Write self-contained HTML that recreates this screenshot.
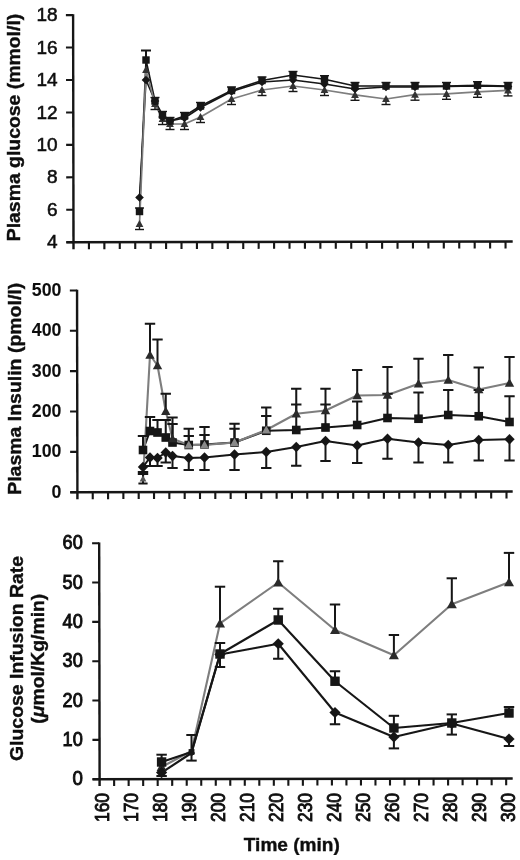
<!DOCTYPE html>
<html lang="en"><head><meta charset="utf-8"><title>Plasma glucose, insulin and glucose infusion rate</title>
<style>
html,body{margin:0;padding:0;background:#fff;}
body{width:520px;height:860px;overflow:hidden;}
svg{display:block;font-family:"Liberation Sans",Arial,Helvetica,sans-serif;}
text{fill:#111;stroke:#111;stroke-width:0.4px;}
text.r{stroke-width:0.55px;}
text.r2{stroke-width:0.9px;}
text.b0{stroke-width:0.1px;}
</style></head><body>
<svg width="520" height="860" viewBox="0 0 520 860">
<rect x="0" y="0" width="520" height="860" fill="#ffffff"/>
<defs><filter id="soft" x="-2%" y="-2%" width="104%" height="104%"><feGaussianBlur stdDeviation="0.55"/></filter></defs>
<g filter="url(#soft)">
<g transform="rotate(-0.1 73.5 242.2)">
<line x1="73.50" y1="14.20" x2="73.50" y2="249.20" stroke="#151515" stroke-width="2.4"/>
<line x1="66.30" y1="242.20" x2="512.70" y2="242.20" stroke="#151515" stroke-width="2.4"/>
<line x1="66.30" y1="242.20" x2="73.50" y2="242.20" stroke="#151515" stroke-width="2.1"/>
<line x1="66.30" y1="209.76" x2="73.50" y2="209.76" stroke="#151515" stroke-width="2.1"/>
<line x1="66.30" y1="177.32" x2="73.50" y2="177.32" stroke="#151515" stroke-width="2.1"/>
<line x1="66.30" y1="144.88" x2="73.50" y2="144.88" stroke="#151515" stroke-width="2.1"/>
<line x1="66.30" y1="112.44" x2="73.50" y2="112.44" stroke="#151515" stroke-width="2.1"/>
<line x1="66.30" y1="80.00" x2="73.50" y2="80.00" stroke="#151515" stroke-width="2.1"/>
<line x1="66.30" y1="47.56" x2="73.50" y2="47.56" stroke="#151515" stroke-width="2.1"/>
<line x1="66.30" y1="15.12" x2="73.50" y2="15.12" stroke="#151515" stroke-width="2.1"/>
<line x1="88.93" y1="242.20" x2="88.93" y2="249.20" stroke="#151515" stroke-width="2.1"/>
<line x1="104.36" y1="242.20" x2="104.36" y2="249.20" stroke="#151515" stroke-width="2.1"/>
<line x1="119.79" y1="242.20" x2="119.79" y2="249.20" stroke="#151515" stroke-width="2.1"/>
<line x1="135.22" y1="242.20" x2="135.22" y2="249.20" stroke="#151515" stroke-width="2.1"/>
<line x1="150.65" y1="242.20" x2="150.65" y2="249.20" stroke="#151515" stroke-width="2.1"/>
<line x1="166.08" y1="242.20" x2="166.08" y2="249.20" stroke="#151515" stroke-width="2.1"/>
<line x1="181.51" y1="242.20" x2="181.51" y2="249.20" stroke="#151515" stroke-width="2.1"/>
<line x1="196.94" y1="242.20" x2="196.94" y2="249.20" stroke="#151515" stroke-width="2.1"/>
<line x1="212.37" y1="242.20" x2="212.37" y2="249.20" stroke="#151515" stroke-width="2.1"/>
<line x1="227.80" y1="242.20" x2="227.80" y2="249.20" stroke="#151515" stroke-width="2.1"/>
<line x1="243.23" y1="242.20" x2="243.23" y2="249.20" stroke="#151515" stroke-width="2.1"/>
<line x1="258.66" y1="242.20" x2="258.66" y2="249.20" stroke="#151515" stroke-width="2.1"/>
<line x1="274.09" y1="242.20" x2="274.09" y2="249.20" stroke="#151515" stroke-width="2.1"/>
<line x1="289.52" y1="242.20" x2="289.52" y2="249.20" stroke="#151515" stroke-width="2.1"/>
<line x1="304.95" y1="242.20" x2="304.95" y2="249.20" stroke="#151515" stroke-width="2.1"/>
<line x1="320.38" y1="242.20" x2="320.38" y2="249.20" stroke="#151515" stroke-width="2.1"/>
<line x1="335.81" y1="242.20" x2="335.81" y2="249.20" stroke="#151515" stroke-width="2.1"/>
<line x1="351.24" y1="242.20" x2="351.24" y2="249.20" stroke="#151515" stroke-width="2.1"/>
<line x1="366.67" y1="242.20" x2="366.67" y2="249.20" stroke="#151515" stroke-width="2.1"/>
<line x1="382.10" y1="242.20" x2="382.10" y2="249.20" stroke="#151515" stroke-width="2.1"/>
<line x1="397.53" y1="242.20" x2="397.53" y2="249.20" stroke="#151515" stroke-width="2.1"/>
<line x1="412.96" y1="242.20" x2="412.96" y2="249.20" stroke="#151515" stroke-width="2.1"/>
<line x1="428.39" y1="242.20" x2="428.39" y2="249.20" stroke="#151515" stroke-width="2.1"/>
<line x1="443.82" y1="242.20" x2="443.82" y2="249.20" stroke="#151515" stroke-width="2.1"/>
<line x1="459.25" y1="242.20" x2="459.25" y2="249.20" stroke="#151515" stroke-width="2.1"/>
<line x1="474.68" y1="242.20" x2="474.68" y2="249.20" stroke="#151515" stroke-width="2.1"/>
<line x1="490.11" y1="242.20" x2="490.11" y2="249.20" stroke="#151515" stroke-width="2.1"/>
<line x1="505.54" y1="242.20" x2="505.54" y2="249.20" stroke="#151515" stroke-width="2.1"/>
</g>
<text x="57.6" y="248.29999999999998" font-size="19" font-weight="normal" text-anchor="end" class="r">4</text>
<text x="57.6" y="215.85999999999999" font-size="19" font-weight="normal" text-anchor="end" class="r">6</text>
<text x="57.6" y="183.42" font-size="19" font-weight="normal" text-anchor="end" class="r">8</text>
<text x="57.6" y="150.98" font-size="19" font-weight="normal" text-anchor="end" class="r">10</text>
<text x="57.6" y="118.53999999999999" font-size="19" font-weight="normal" text-anchor="end" class="r">12</text>
<text x="57.6" y="86.1" font-size="19" font-weight="normal" text-anchor="end" class="r">14</text>
<text x="57.6" y="53.660000000000004" font-size="19" font-weight="normal" text-anchor="end" class="r">16</text>
<text x="57.6" y="21.220000000000006" font-size="19" font-weight="normal" text-anchor="end" class="r">18</text>
<text x="20.0" y="127.5" font-size="18.3" font-weight="bold" text-anchor="middle" textLength="227.5" lengthAdjust="spacingAndGlyphs" transform="rotate(-90 20.0 127.5)">Plasma glucose (mmol/l)</text>
<polyline points="139.50,197.50 146.00,80.00 155.00,101.00 162.50,117.00 170.00,121.00 184.50,118.00 200.50,107.50 231.50,91.50 262.00,82.00 293.00,80.00 324.50,84.00 355.00,89.00 386.00,87.00 415.00,87.00 446.50,86.50 477.50,86.00 508.00,86.50" fill="none" stroke="#151515" stroke-width="1.6" stroke-linejoin="round"/>
<polyline points="139.50,211.50 146.00,60.00 155.00,101.00 162.50,115.00 170.00,121.00 184.50,116.00 200.50,106.00 231.50,90.50 262.00,80.50 293.00,75.00 324.50,79.20 355.00,86.00 386.00,86.00 415.00,86.00 446.50,86.00 477.50,85.20 508.00,86.00" fill="none" stroke="#151515" stroke-width="1.6" stroke-linejoin="round"/>
<polyline points="139.50,224.00 146.00,70.00 155.00,104.00 162.50,119.00 170.00,124.00 184.50,124.00 200.50,117.00 231.50,99.00 262.00,90.00 293.00,86.00 324.50,90.00 355.00,94.80 386.00,99.00 415.00,94.70 446.50,93.80 477.50,91.80 508.00,90.40" fill="none" stroke="#7e7e7e" stroke-width="1.7" stroke-linejoin="round"/>
<line x1="139.50" y1="211.50" x2="139.50" y2="208.00" stroke="#151515" stroke-width="1.4"/>
<line x1="135.00" y1="208.00" x2="144.00" y2="208.00" stroke="#151515" stroke-width="1.4"/>
<line x1="139.50" y1="224.00" x2="139.50" y2="229.50" stroke="#151515" stroke-width="1.4"/>
<line x1="135.00" y1="229.50" x2="144.00" y2="229.50" stroke="#151515" stroke-width="1.4"/>
<line x1="146.00" y1="60.00" x2="146.00" y2="50.50" stroke="#151515" stroke-width="2.0"/>
<line x1="141.00" y1="50.50" x2="151.00" y2="50.50" stroke="#151515" stroke-width="2.0"/>
<line x1="155.00" y1="101.00" x2="155.00" y2="97.50" stroke="#151515" stroke-width="1.4"/>
<line x1="150.50" y1="97.50" x2="159.50" y2="97.50" stroke="#151515" stroke-width="1.4"/>
<line x1="155.00" y1="104.00" x2="155.00" y2="109.50" stroke="#151515" stroke-width="1.4"/>
<line x1="150.50" y1="109.50" x2="159.50" y2="109.50" stroke="#151515" stroke-width="1.4"/>
<line x1="162.50" y1="115.00" x2="162.50" y2="111.50" stroke="#151515" stroke-width="1.4"/>
<line x1="158.00" y1="111.50" x2="167.00" y2="111.50" stroke="#151515" stroke-width="1.4"/>
<line x1="162.50" y1="119.00" x2="162.50" y2="124.50" stroke="#151515" stroke-width="1.4"/>
<line x1="158.00" y1="124.50" x2="167.00" y2="124.50" stroke="#151515" stroke-width="1.4"/>
<line x1="170.00" y1="121.00" x2="170.00" y2="117.50" stroke="#151515" stroke-width="1.4"/>
<line x1="165.50" y1="117.50" x2="174.50" y2="117.50" stroke="#151515" stroke-width="1.4"/>
<line x1="170.00" y1="124.00" x2="170.00" y2="129.50" stroke="#151515" stroke-width="1.4"/>
<line x1="165.50" y1="129.50" x2="174.50" y2="129.50" stroke="#151515" stroke-width="1.4"/>
<line x1="184.50" y1="116.00" x2="184.50" y2="112.50" stroke="#151515" stroke-width="1.4"/>
<line x1="180.00" y1="112.50" x2="189.00" y2="112.50" stroke="#151515" stroke-width="1.4"/>
<line x1="184.50" y1="124.00" x2="184.50" y2="129.50" stroke="#151515" stroke-width="1.4"/>
<line x1="180.00" y1="129.50" x2="189.00" y2="129.50" stroke="#151515" stroke-width="1.4"/>
<line x1="200.50" y1="106.00" x2="200.50" y2="102.50" stroke="#151515" stroke-width="1.4"/>
<line x1="196.00" y1="102.50" x2="205.00" y2="102.50" stroke="#151515" stroke-width="1.4"/>
<line x1="200.50" y1="117.00" x2="200.50" y2="122.50" stroke="#151515" stroke-width="1.4"/>
<line x1="196.00" y1="122.50" x2="205.00" y2="122.50" stroke="#151515" stroke-width="1.4"/>
<line x1="231.50" y1="90.50" x2="231.50" y2="87.00" stroke="#151515" stroke-width="1.4"/>
<line x1="227.00" y1="87.00" x2="236.00" y2="87.00" stroke="#151515" stroke-width="1.4"/>
<line x1="231.50" y1="99.00" x2="231.50" y2="104.50" stroke="#151515" stroke-width="1.4"/>
<line x1="227.00" y1="104.50" x2="236.00" y2="104.50" stroke="#151515" stroke-width="1.4"/>
<line x1="262.00" y1="80.50" x2="262.00" y2="77.00" stroke="#151515" stroke-width="1.4"/>
<line x1="257.50" y1="77.00" x2="266.50" y2="77.00" stroke="#151515" stroke-width="1.4"/>
<line x1="262.00" y1="90.00" x2="262.00" y2="95.50" stroke="#151515" stroke-width="1.4"/>
<line x1="257.50" y1="95.50" x2="266.50" y2="95.50" stroke="#151515" stroke-width="1.4"/>
<line x1="293.00" y1="75.00" x2="293.00" y2="71.50" stroke="#151515" stroke-width="1.4"/>
<line x1="288.50" y1="71.50" x2="297.50" y2="71.50" stroke="#151515" stroke-width="1.4"/>
<line x1="293.00" y1="86.00" x2="293.00" y2="91.50" stroke="#151515" stroke-width="1.4"/>
<line x1="288.50" y1="91.50" x2="297.50" y2="91.50" stroke="#151515" stroke-width="1.4"/>
<line x1="324.50" y1="79.20" x2="324.50" y2="75.70" stroke="#151515" stroke-width="1.4"/>
<line x1="320.00" y1="75.70" x2="329.00" y2="75.70" stroke="#151515" stroke-width="1.4"/>
<line x1="324.50" y1="90.00" x2="324.50" y2="95.50" stroke="#151515" stroke-width="1.4"/>
<line x1="320.00" y1="95.50" x2="329.00" y2="95.50" stroke="#151515" stroke-width="1.4"/>
<line x1="355.00" y1="86.00" x2="355.00" y2="82.50" stroke="#151515" stroke-width="1.4"/>
<line x1="350.50" y1="82.50" x2="359.50" y2="82.50" stroke="#151515" stroke-width="1.4"/>
<line x1="355.00" y1="94.80" x2="355.00" y2="100.30" stroke="#151515" stroke-width="1.4"/>
<line x1="350.50" y1="100.30" x2="359.50" y2="100.30" stroke="#151515" stroke-width="1.4"/>
<line x1="386.00" y1="86.00" x2="386.00" y2="82.50" stroke="#151515" stroke-width="1.4"/>
<line x1="381.50" y1="82.50" x2="390.50" y2="82.50" stroke="#151515" stroke-width="1.4"/>
<line x1="386.00" y1="99.00" x2="386.00" y2="104.50" stroke="#151515" stroke-width="1.4"/>
<line x1="381.50" y1="104.50" x2="390.50" y2="104.50" stroke="#151515" stroke-width="1.4"/>
<line x1="415.00" y1="86.00" x2="415.00" y2="82.50" stroke="#151515" stroke-width="1.4"/>
<line x1="410.50" y1="82.50" x2="419.50" y2="82.50" stroke="#151515" stroke-width="1.4"/>
<line x1="415.00" y1="94.70" x2="415.00" y2="100.20" stroke="#151515" stroke-width="1.4"/>
<line x1="410.50" y1="100.20" x2="419.50" y2="100.20" stroke="#151515" stroke-width="1.4"/>
<line x1="446.50" y1="86.00" x2="446.50" y2="82.50" stroke="#151515" stroke-width="1.4"/>
<line x1="442.00" y1="82.50" x2="451.00" y2="82.50" stroke="#151515" stroke-width="1.4"/>
<line x1="446.50" y1="93.80" x2="446.50" y2="99.30" stroke="#151515" stroke-width="1.4"/>
<line x1="442.00" y1="99.30" x2="451.00" y2="99.30" stroke="#151515" stroke-width="1.4"/>
<line x1="477.50" y1="85.20" x2="477.50" y2="81.70" stroke="#151515" stroke-width="1.4"/>
<line x1="473.00" y1="81.70" x2="482.00" y2="81.70" stroke="#151515" stroke-width="1.4"/>
<line x1="477.50" y1="91.80" x2="477.50" y2="97.30" stroke="#151515" stroke-width="1.4"/>
<line x1="473.00" y1="97.30" x2="482.00" y2="97.30" stroke="#151515" stroke-width="1.4"/>
<line x1="508.00" y1="86.00" x2="508.00" y2="82.50" stroke="#151515" stroke-width="1.4"/>
<line x1="503.50" y1="82.50" x2="512.50" y2="82.50" stroke="#151515" stroke-width="1.4"/>
<line x1="508.00" y1="90.40" x2="508.00" y2="95.90" stroke="#151515" stroke-width="1.4"/>
<line x1="503.50" y1="95.90" x2="512.50" y2="95.90" stroke="#151515" stroke-width="1.4"/>
<polygon points="139.50,220.10 143.40,227.12 135.60,227.12" fill="#333"/>
<polygon points="139.50,193.20 143.80,197.50 139.50,201.80 135.20,197.50" fill="#151515"/>
<rect x="135.80" y="207.80" width="7.40" height="7.40" fill="#151515"/>
<polygon points="146.00,66.10 149.90,73.12 142.10,73.12" fill="#333"/>
<polygon points="146.00,75.70 150.30,80.00 146.00,84.30 141.70,80.00" fill="#151515"/>
<rect x="142.30" y="56.30" width="7.40" height="7.40" fill="#151515"/>
<polygon points="155.00,100.10 158.90,107.12 151.10,107.12" fill="#333"/>
<polygon points="155.00,96.70 159.30,101.00 155.00,105.30 150.70,101.00" fill="#151515"/>
<rect x="151.30" y="97.30" width="7.40" height="7.40" fill="#151515"/>
<polygon points="162.50,115.10 166.40,122.12 158.60,122.12" fill="#333"/>
<polygon points="162.50,112.70 166.80,117.00 162.50,121.30 158.20,117.00" fill="#151515"/>
<rect x="158.80" y="111.30" width="7.40" height="7.40" fill="#151515"/>
<polygon points="170.00,120.10 173.90,127.12 166.10,127.12" fill="#333"/>
<polygon points="170.00,116.70 174.30,121.00 170.00,125.30 165.70,121.00" fill="#151515"/>
<rect x="166.30" y="117.30" width="7.40" height="7.40" fill="#151515"/>
<polygon points="184.50,120.10 188.40,127.12 180.60,127.12" fill="#333"/>
<polygon points="184.50,113.70 188.80,118.00 184.50,122.30 180.20,118.00" fill="#151515"/>
<rect x="180.80" y="112.30" width="7.40" height="7.40" fill="#151515"/>
<polygon points="200.50,113.10 204.40,120.12 196.60,120.12" fill="#333"/>
<polygon points="200.50,103.20 204.80,107.50 200.50,111.80 196.20,107.50" fill="#151515"/>
<rect x="196.80" y="102.30" width="7.40" height="7.40" fill="#151515"/>
<polygon points="231.50,95.10 235.40,102.12 227.60,102.12" fill="#333"/>
<polygon points="231.50,87.20 235.80,91.50 231.50,95.80 227.20,91.50" fill="#151515"/>
<rect x="227.80" y="86.80" width="7.40" height="7.40" fill="#151515"/>
<polygon points="262.00,86.10 265.90,93.12 258.10,93.12" fill="#333"/>
<polygon points="262.00,77.70 266.30,82.00 262.00,86.30 257.70,82.00" fill="#151515"/>
<rect x="258.30" y="76.80" width="7.40" height="7.40" fill="#151515"/>
<polygon points="293.00,82.10 296.90,89.12 289.10,89.12" fill="#333"/>
<polygon points="293.00,75.70 297.30,80.00 293.00,84.30 288.70,80.00" fill="#151515"/>
<rect x="289.30" y="71.30" width="7.40" height="7.40" fill="#151515"/>
<polygon points="324.50,86.10 328.40,93.12 320.60,93.12" fill="#333"/>
<polygon points="324.50,79.70 328.80,84.00 324.50,88.30 320.20,84.00" fill="#151515"/>
<rect x="320.80" y="75.50" width="7.40" height="7.40" fill="#151515"/>
<polygon points="355.00,90.90 358.90,97.92 351.10,97.92" fill="#333"/>
<polygon points="355.00,84.70 359.30,89.00 355.00,93.30 350.70,89.00" fill="#151515"/>
<rect x="351.30" y="82.30" width="7.40" height="7.40" fill="#151515"/>
<polygon points="386.00,95.10 389.90,102.12 382.10,102.12" fill="#333"/>
<polygon points="386.00,82.70 390.30,87.00 386.00,91.30 381.70,87.00" fill="#151515"/>
<rect x="382.30" y="82.30" width="7.40" height="7.40" fill="#151515"/>
<polygon points="415.00,90.80 418.90,97.82 411.10,97.82" fill="#333"/>
<polygon points="415.00,82.70 419.30,87.00 415.00,91.30 410.70,87.00" fill="#151515"/>
<rect x="411.30" y="82.30" width="7.40" height="7.40" fill="#151515"/>
<polygon points="446.50,89.90 450.40,96.92 442.60,96.92" fill="#333"/>
<polygon points="446.50,82.20 450.80,86.50 446.50,90.80 442.20,86.50" fill="#151515"/>
<rect x="442.80" y="82.30" width="7.40" height="7.40" fill="#151515"/>
<polygon points="477.50,87.90 481.40,94.92 473.60,94.92" fill="#333"/>
<polygon points="477.50,81.70 481.80,86.00 477.50,90.30 473.20,86.00" fill="#151515"/>
<rect x="473.80" y="81.50" width="7.40" height="7.40" fill="#151515"/>
<polygon points="508.00,86.50 511.90,93.52 504.10,93.52" fill="#333"/>
<polygon points="508.00,82.20 512.30,86.50 508.00,90.80 503.70,86.50" fill="#151515"/>
<rect x="504.30" y="82.30" width="7.40" height="7.40" fill="#151515"/>
<g transform="rotate(-0.1 77.4 492.2)">
<line x1="77.40" y1="289.80" x2="77.40" y2="499.20" stroke="#151515" stroke-width="2.4"/>
<line x1="70.20" y1="492.20" x2="512.70" y2="492.20" stroke="#151515" stroke-width="2.4"/>
<line x1="70.20" y1="492.20" x2="77.40" y2="492.20" stroke="#151515" stroke-width="2.1"/>
<line x1="70.20" y1="451.85" x2="77.40" y2="451.85" stroke="#151515" stroke-width="2.1"/>
<line x1="70.20" y1="411.50" x2="77.40" y2="411.50" stroke="#151515" stroke-width="2.1"/>
<line x1="70.20" y1="371.15" x2="77.40" y2="371.15" stroke="#151515" stroke-width="2.1"/>
<line x1="70.20" y1="330.80" x2="77.40" y2="330.80" stroke="#151515" stroke-width="2.1"/>
<line x1="70.20" y1="290.45" x2="77.40" y2="290.45" stroke="#151515" stroke-width="2.1"/>
<line x1="92.73" y1="492.20" x2="92.73" y2="499.20" stroke="#151515" stroke-width="2.1"/>
<line x1="108.05" y1="492.20" x2="108.05" y2="499.20" stroke="#151515" stroke-width="2.1"/>
<line x1="123.38" y1="492.20" x2="123.38" y2="499.20" stroke="#151515" stroke-width="2.1"/>
<line x1="138.70" y1="492.20" x2="138.70" y2="499.20" stroke="#151515" stroke-width="2.1"/>
<line x1="154.03" y1="492.20" x2="154.03" y2="499.20" stroke="#151515" stroke-width="2.1"/>
<line x1="169.35" y1="492.20" x2="169.35" y2="499.20" stroke="#151515" stroke-width="2.1"/>
<line x1="184.68" y1="492.20" x2="184.68" y2="499.20" stroke="#151515" stroke-width="2.1"/>
<line x1="200.00" y1="492.20" x2="200.00" y2="499.20" stroke="#151515" stroke-width="2.1"/>
<line x1="215.32" y1="492.20" x2="215.32" y2="499.20" stroke="#151515" stroke-width="2.1"/>
<line x1="230.65" y1="492.20" x2="230.65" y2="499.20" stroke="#151515" stroke-width="2.1"/>
<line x1="245.97" y1="492.20" x2="245.97" y2="499.20" stroke="#151515" stroke-width="2.1"/>
<line x1="261.30" y1="492.20" x2="261.30" y2="499.20" stroke="#151515" stroke-width="2.1"/>
<line x1="276.62" y1="492.20" x2="276.62" y2="499.20" stroke="#151515" stroke-width="2.1"/>
<line x1="291.95" y1="492.20" x2="291.95" y2="499.20" stroke="#151515" stroke-width="2.1"/>
<line x1="307.27" y1="492.20" x2="307.27" y2="499.20" stroke="#151515" stroke-width="2.1"/>
<line x1="322.60" y1="492.20" x2="322.60" y2="499.20" stroke="#151515" stroke-width="2.1"/>
<line x1="337.92" y1="492.20" x2="337.92" y2="499.20" stroke="#151515" stroke-width="2.1"/>
<line x1="353.25" y1="492.20" x2="353.25" y2="499.20" stroke="#151515" stroke-width="2.1"/>
<line x1="368.58" y1="492.20" x2="368.58" y2="499.20" stroke="#151515" stroke-width="2.1"/>
<line x1="383.90" y1="492.20" x2="383.90" y2="499.20" stroke="#151515" stroke-width="2.1"/>
<line x1="399.23" y1="492.20" x2="399.23" y2="499.20" stroke="#151515" stroke-width="2.1"/>
<line x1="414.55" y1="492.20" x2="414.55" y2="499.20" stroke="#151515" stroke-width="2.1"/>
<line x1="429.88" y1="492.20" x2="429.88" y2="499.20" stroke="#151515" stroke-width="2.1"/>
<line x1="445.20" y1="492.20" x2="445.20" y2="499.20" stroke="#151515" stroke-width="2.1"/>
<line x1="460.52" y1="492.20" x2="460.52" y2="499.20" stroke="#151515" stroke-width="2.1"/>
<line x1="475.85" y1="492.20" x2="475.85" y2="499.20" stroke="#151515" stroke-width="2.1"/>
<line x1="491.17" y1="492.20" x2="491.17" y2="499.20" stroke="#151515" stroke-width="2.1"/>
<line x1="506.50" y1="492.20" x2="506.50" y2="499.20" stroke="#151515" stroke-width="2.1"/>
</g>
<text x="61.4" y="497.7" font-size="18" font-weight="bold" text-anchor="end" textLength="9.9" lengthAdjust="spacingAndGlyphs" class="b0">0</text>
<text x="61.4" y="457.34999999999997" font-size="18" font-weight="bold" text-anchor="end" textLength="29.6" lengthAdjust="spacingAndGlyphs" class="b0">100</text>
<text x="61.4" y="417.0" font-size="18" font-weight="bold" text-anchor="end" textLength="29.6" lengthAdjust="spacingAndGlyphs" class="b0">200</text>
<text x="61.4" y="376.65" font-size="18" font-weight="bold" text-anchor="end" textLength="29.6" lengthAdjust="spacingAndGlyphs" class="b0">300</text>
<text x="61.4" y="336.29999999999995" font-size="18" font-weight="bold" text-anchor="end" textLength="29.6" lengthAdjust="spacingAndGlyphs" class="b0">400</text>
<text x="61.4" y="295.95" font-size="18" font-weight="bold" text-anchor="end" textLength="29.6" lengthAdjust="spacingAndGlyphs" class="b0">500</text>
<text x="21" y="388.8" font-size="18" font-weight="bold" text-anchor="middle" textLength="212" lengthAdjust="spacingAndGlyphs" transform="rotate(-90 21 388.8)">Plasma Insulin (pmol/l)</text>
<polyline points="143.00,450.00 150.00,431.00 157.50,432.50 165.75,437.50 172.50,442.50 188.75,445.00 204.50,444.50 234.50,442.50 266.25,430.75 296.25,430.00 325.50,427.50 357.20,425.00 387.50,418.00 418.50,418.75 448.25,415.00 478.75,416.25 509.50,422.00" fill="none" stroke="#151515" stroke-width="2.1" stroke-linejoin="round"/>
<polyline points="143.00,467.00 150.00,457.50 157.50,458.00 165.75,452.50 172.50,456.00 188.75,458.00 204.50,457.50 234.50,454.50 266.25,452.00 296.25,447.00 325.50,441.00 357.20,445.50 387.50,438.75 418.50,442.50 448.25,445.00 478.75,440.00 509.50,439.25" fill="none" stroke="#151515" stroke-width="2.1" stroke-linejoin="round"/>
<polyline points="143.00,478.75 150.00,355.00 157.50,365.50 165.75,411.25 172.50,438.75 188.75,445.00 204.50,445.00 234.50,442.50 266.25,430.00 296.25,413.75 325.50,410.50 357.20,395.50 387.50,395.00 418.50,383.75 448.25,380.00 478.75,389.50 509.50,383.00" fill="none" stroke="#7e7e7e" stroke-width="2.1" stroke-linejoin="round"/>
<line x1="143.00" y1="478.75" x2="143.00" y2="474.00" stroke="#151515" stroke-width="2.0"/>
<line x1="137.80" y1="474.00" x2="148.20" y2="474.00" stroke="#151515" stroke-width="2.0"/>
<line x1="143.00" y1="450.00" x2="143.00" y2="436.00" stroke="#151515" stroke-width="2.0"/>
<line x1="137.80" y1="436.00" x2="148.20" y2="436.00" stroke="#151515" stroke-width="2.0"/>
<line x1="143.00" y1="467.00" x2="143.00" y2="472.00" stroke="#151515" stroke-width="2.0"/>
<line x1="137.80" y1="472.00" x2="148.20" y2="472.00" stroke="#151515" stroke-width="2.0"/>
<line x1="150.00" y1="355.00" x2="150.00" y2="323.75" stroke="#151515" stroke-width="2.0"/>
<line x1="144.80" y1="323.75" x2="155.20" y2="323.75" stroke="#151515" stroke-width="2.0"/>
<line x1="150.00" y1="431.00" x2="150.00" y2="417.00" stroke="#151515" stroke-width="2.0"/>
<line x1="144.80" y1="417.00" x2="155.20" y2="417.00" stroke="#151515" stroke-width="2.0"/>
<line x1="150.00" y1="457.50" x2="150.00" y2="466.00" stroke="#151515" stroke-width="2.0"/>
<line x1="144.80" y1="466.00" x2="155.20" y2="466.00" stroke="#151515" stroke-width="2.0"/>
<line x1="157.50" y1="365.50" x2="157.50" y2="339.50" stroke="#151515" stroke-width="2.0"/>
<line x1="152.30" y1="339.50" x2="162.70" y2="339.50" stroke="#151515" stroke-width="2.0"/>
<line x1="157.50" y1="432.50" x2="157.50" y2="420.00" stroke="#151515" stroke-width="2.0"/>
<line x1="152.30" y1="420.00" x2="162.70" y2="420.00" stroke="#151515" stroke-width="2.0"/>
<line x1="157.50" y1="458.00" x2="157.50" y2="466.00" stroke="#151515" stroke-width="2.0"/>
<line x1="152.30" y1="466.00" x2="162.70" y2="466.00" stroke="#151515" stroke-width="2.0"/>
<line x1="165.75" y1="411.25" x2="165.75" y2="393.75" stroke="#151515" stroke-width="2.0"/>
<line x1="160.55" y1="393.75" x2="170.95" y2="393.75" stroke="#151515" stroke-width="2.0"/>
<line x1="165.75" y1="437.50" x2="165.75" y2="420.00" stroke="#151515" stroke-width="2.0"/>
<line x1="160.55" y1="420.00" x2="170.95" y2="420.00" stroke="#151515" stroke-width="2.0"/>
<line x1="165.75" y1="452.50" x2="165.75" y2="462.50" stroke="#151515" stroke-width="2.0"/>
<line x1="160.55" y1="462.50" x2="170.95" y2="462.50" stroke="#151515" stroke-width="2.0"/>
<line x1="172.50" y1="438.75" x2="172.50" y2="424.00" stroke="#151515" stroke-width="2.0"/>
<line x1="167.30" y1="424.00" x2="177.70" y2="424.00" stroke="#151515" stroke-width="2.0"/>
<line x1="172.50" y1="442.50" x2="172.50" y2="417.50" stroke="#151515" stroke-width="2.0"/>
<line x1="167.30" y1="417.50" x2="177.70" y2="417.50" stroke="#151515" stroke-width="2.0"/>
<line x1="172.50" y1="456.00" x2="172.50" y2="468.00" stroke="#151515" stroke-width="2.0"/>
<line x1="167.30" y1="468.00" x2="177.70" y2="468.00" stroke="#151515" stroke-width="2.0"/>
<line x1="188.75" y1="445.00" x2="188.75" y2="436.00" stroke="#151515" stroke-width="2.0"/>
<line x1="183.55" y1="436.00" x2="193.95" y2="436.00" stroke="#151515" stroke-width="2.0"/>
<line x1="188.75" y1="445.00" x2="188.75" y2="428.75" stroke="#151515" stroke-width="2.0"/>
<line x1="183.55" y1="428.75" x2="193.95" y2="428.75" stroke="#151515" stroke-width="2.0"/>
<line x1="188.75" y1="458.00" x2="188.75" y2="470.00" stroke="#151515" stroke-width="2.0"/>
<line x1="183.55" y1="470.00" x2="193.95" y2="470.00" stroke="#151515" stroke-width="2.0"/>
<line x1="204.50" y1="445.00" x2="204.50" y2="435.00" stroke="#151515" stroke-width="2.0"/>
<line x1="199.30" y1="435.00" x2="209.70" y2="435.00" stroke="#151515" stroke-width="2.0"/>
<line x1="204.50" y1="444.50" x2="204.50" y2="427.00" stroke="#151515" stroke-width="2.0"/>
<line x1="199.30" y1="427.00" x2="209.70" y2="427.00" stroke="#151515" stroke-width="2.0"/>
<line x1="204.50" y1="457.50" x2="204.50" y2="470.00" stroke="#151515" stroke-width="2.0"/>
<line x1="199.30" y1="470.00" x2="209.70" y2="470.00" stroke="#151515" stroke-width="2.0"/>
<line x1="234.50" y1="442.50" x2="234.50" y2="428.75" stroke="#151515" stroke-width="2.0"/>
<line x1="229.30" y1="428.75" x2="239.70" y2="428.75" stroke="#151515" stroke-width="2.0"/>
<line x1="234.50" y1="442.50" x2="234.50" y2="423.75" stroke="#151515" stroke-width="2.0"/>
<line x1="229.30" y1="423.75" x2="239.70" y2="423.75" stroke="#151515" stroke-width="2.0"/>
<line x1="234.50" y1="454.50" x2="234.50" y2="470.00" stroke="#151515" stroke-width="2.0"/>
<line x1="229.30" y1="470.00" x2="239.70" y2="470.00" stroke="#151515" stroke-width="2.0"/>
<line x1="266.25" y1="430.00" x2="266.25" y2="407.50" stroke="#151515" stroke-width="2.0"/>
<line x1="261.05" y1="407.50" x2="271.45" y2="407.50" stroke="#151515" stroke-width="2.0"/>
<line x1="266.25" y1="430.75" x2="266.25" y2="416.00" stroke="#151515" stroke-width="2.0"/>
<line x1="261.05" y1="416.00" x2="271.45" y2="416.00" stroke="#151515" stroke-width="2.0"/>
<line x1="266.25" y1="452.00" x2="266.25" y2="468.00" stroke="#151515" stroke-width="2.0"/>
<line x1="261.05" y1="468.00" x2="271.45" y2="468.00" stroke="#151515" stroke-width="2.0"/>
<line x1="296.25" y1="413.75" x2="296.25" y2="388.75" stroke="#151515" stroke-width="2.0"/>
<line x1="291.05" y1="388.75" x2="301.45" y2="388.75" stroke="#151515" stroke-width="2.0"/>
<line x1="296.25" y1="430.00" x2="296.25" y2="404.50" stroke="#151515" stroke-width="2.0"/>
<line x1="291.05" y1="404.50" x2="301.45" y2="404.50" stroke="#151515" stroke-width="2.0"/>
<line x1="296.25" y1="447.00" x2="296.25" y2="465.75" stroke="#151515" stroke-width="2.0"/>
<line x1="291.05" y1="465.75" x2="301.45" y2="465.75" stroke="#151515" stroke-width="2.0"/>
<line x1="325.50" y1="410.50" x2="325.50" y2="388.75" stroke="#151515" stroke-width="2.0"/>
<line x1="320.30" y1="388.75" x2="330.70" y2="388.75" stroke="#151515" stroke-width="2.0"/>
<line x1="325.50" y1="427.50" x2="325.50" y2="404.50" stroke="#151515" stroke-width="2.0"/>
<line x1="320.30" y1="404.50" x2="330.70" y2="404.50" stroke="#151515" stroke-width="2.0"/>
<line x1="325.50" y1="441.00" x2="325.50" y2="461.00" stroke="#151515" stroke-width="2.0"/>
<line x1="320.30" y1="461.00" x2="330.70" y2="461.00" stroke="#151515" stroke-width="2.0"/>
<line x1="357.20" y1="395.50" x2="357.20" y2="370.00" stroke="#151515" stroke-width="2.0"/>
<line x1="352.00" y1="370.00" x2="362.40" y2="370.00" stroke="#151515" stroke-width="2.0"/>
<line x1="357.20" y1="425.00" x2="357.20" y2="401.50" stroke="#151515" stroke-width="2.0"/>
<line x1="352.00" y1="401.50" x2="362.40" y2="401.50" stroke="#151515" stroke-width="2.0"/>
<line x1="357.20" y1="445.50" x2="357.20" y2="463.00" stroke="#151515" stroke-width="2.0"/>
<line x1="352.00" y1="463.00" x2="362.40" y2="463.00" stroke="#151515" stroke-width="2.0"/>
<line x1="387.50" y1="395.00" x2="387.50" y2="367.00" stroke="#151515" stroke-width="2.0"/>
<line x1="382.30" y1="367.00" x2="392.70" y2="367.00" stroke="#151515" stroke-width="2.0"/>
<line x1="387.50" y1="418.00" x2="387.50" y2="393.75" stroke="#151515" stroke-width="2.0"/>
<line x1="382.30" y1="393.75" x2="392.70" y2="393.75" stroke="#151515" stroke-width="2.0"/>
<line x1="387.50" y1="438.75" x2="387.50" y2="458.75" stroke="#151515" stroke-width="2.0"/>
<line x1="382.30" y1="458.75" x2="392.70" y2="458.75" stroke="#151515" stroke-width="2.0"/>
<line x1="418.50" y1="383.75" x2="418.50" y2="358.75" stroke="#151515" stroke-width="2.0"/>
<line x1="413.30" y1="358.75" x2="423.70" y2="358.75" stroke="#151515" stroke-width="2.0"/>
<line x1="418.50" y1="418.75" x2="418.50" y2="392.50" stroke="#151515" stroke-width="2.0"/>
<line x1="413.30" y1="392.50" x2="423.70" y2="392.50" stroke="#151515" stroke-width="2.0"/>
<line x1="418.50" y1="442.50" x2="418.50" y2="462.50" stroke="#151515" stroke-width="2.0"/>
<line x1="413.30" y1="462.50" x2="423.70" y2="462.50" stroke="#151515" stroke-width="2.0"/>
<line x1="448.25" y1="380.00" x2="448.25" y2="355.00" stroke="#151515" stroke-width="2.0"/>
<line x1="443.05" y1="355.00" x2="453.45" y2="355.00" stroke="#151515" stroke-width="2.0"/>
<line x1="448.25" y1="415.00" x2="448.25" y2="390.00" stroke="#151515" stroke-width="2.0"/>
<line x1="443.05" y1="390.00" x2="453.45" y2="390.00" stroke="#151515" stroke-width="2.0"/>
<line x1="448.25" y1="445.00" x2="448.25" y2="462.50" stroke="#151515" stroke-width="2.0"/>
<line x1="443.05" y1="462.50" x2="453.45" y2="462.50" stroke="#151515" stroke-width="2.0"/>
<line x1="478.75" y1="389.50" x2="478.75" y2="367.50" stroke="#151515" stroke-width="2.0"/>
<line x1="473.55" y1="367.50" x2="483.95" y2="367.50" stroke="#151515" stroke-width="2.0"/>
<line x1="478.75" y1="416.25" x2="478.75" y2="390.00" stroke="#151515" stroke-width="2.0"/>
<line x1="473.55" y1="390.00" x2="483.95" y2="390.00" stroke="#151515" stroke-width="2.0"/>
<line x1="478.75" y1="440.00" x2="478.75" y2="460.50" stroke="#151515" stroke-width="2.0"/>
<line x1="473.55" y1="460.50" x2="483.95" y2="460.50" stroke="#151515" stroke-width="2.0"/>
<line x1="509.50" y1="383.00" x2="509.50" y2="357.00" stroke="#151515" stroke-width="2.0"/>
<line x1="504.30" y1="357.00" x2="514.70" y2="357.00" stroke="#151515" stroke-width="2.0"/>
<line x1="509.50" y1="422.00" x2="509.50" y2="396.25" stroke="#151515" stroke-width="2.0"/>
<line x1="504.30" y1="396.25" x2="514.70" y2="396.25" stroke="#151515" stroke-width="2.0"/>
<line x1="509.50" y1="439.25" x2="509.50" y2="460.50" stroke="#151515" stroke-width="2.0"/>
<line x1="504.30" y1="460.50" x2="514.70" y2="460.50" stroke="#151515" stroke-width="2.0"/>
<line x1="143.00" y1="478.75" x2="143.00" y2="483.50" stroke="#151515" stroke-width="2.0"/>
<line x1="138.40" y1="483.50" x2="147.60" y2="483.50" stroke="#151515" stroke-width="2.0"/>
<rect x="138.70" y="445.70" width="8.60" height="8.60" fill="#151515"/>
<polygon points="143.00,461.80 148.20,467.00 143.00,472.20 137.80,467.00" fill="#151515"/>
<polygon points="143.00,475.35 146.40,481.47 139.60,481.47" fill="#555"/>
<rect x="145.70" y="426.70" width="8.60" height="8.60" fill="#151515"/>
<polygon points="150.00,452.30 155.20,457.50 150.00,462.70 144.80,457.50" fill="#151515"/>
<polygon points="150.00,350.30 154.70,358.76 145.30,358.76" fill="#2a2a2a"/>
<rect x="153.20" y="428.20" width="8.60" height="8.60" fill="#151515"/>
<polygon points="157.50,452.80 162.70,458.00 157.50,463.20 152.30,458.00" fill="#151515"/>
<polygon points="157.50,360.80 162.20,369.26 152.80,369.26" fill="#2a2a2a"/>
<rect x="161.45" y="433.20" width="8.60" height="8.60" fill="#151515"/>
<polygon points="165.75,447.30 170.95,452.50 165.75,457.70 160.55,452.50" fill="#151515"/>
<polygon points="165.75,406.55 170.45,415.01 161.05,415.01" fill="#2a2a2a"/>
<rect x="168.20" y="438.20" width="8.60" height="8.60" fill="#151515"/>
<polygon points="172.50,450.80 177.70,456.00 172.50,461.20 167.30,456.00" fill="#151515"/>
<polygon points="172.50,434.05 177.20,442.51 167.80,442.51" fill="#2a2a2a"/>
<rect x="184.45" y="440.70" width="8.60" height="8.60" fill="#151515"/>
<polygon points="188.75,452.80 193.95,458.00 188.75,463.20 183.55,458.00" fill="#151515"/>
<polygon points="188.75,440.60 193.15,448.52 184.35,448.52" fill="#8a8a8a"/>
<rect x="200.20" y="440.20" width="8.60" height="8.60" fill="#151515"/>
<polygon points="204.50,452.30 209.70,457.50 204.50,462.70 199.30,457.50" fill="#151515"/>
<polygon points="204.50,440.60 208.90,448.52 200.10,448.52" fill="#8a8a8a"/>
<rect x="230.20" y="438.20" width="8.60" height="8.60" fill="#151515"/>
<polygon points="234.50,449.30 239.70,454.50 234.50,459.70 229.30,454.50" fill="#151515"/>
<polygon points="234.50,438.10 238.90,446.02 230.10,446.02" fill="#8a8a8a"/>
<rect x="261.95" y="426.45" width="8.60" height="8.60" fill="#151515"/>
<polygon points="266.25,446.80 271.45,452.00 266.25,457.20 261.05,452.00" fill="#151515"/>
<polygon points="266.25,425.60 270.65,433.52 261.85,433.52" fill="#8a8a8a"/>
<rect x="291.95" y="425.70" width="8.60" height="8.60" fill="#151515"/>
<polygon points="296.25,441.80 301.45,447.00 296.25,452.20 291.05,447.00" fill="#151515"/>
<polygon points="296.25,409.05 300.95,417.51 291.55,417.51" fill="#2a2a2a"/>
<rect x="321.20" y="423.20" width="8.60" height="8.60" fill="#151515"/>
<polygon points="325.50,435.80 330.70,441.00 325.50,446.20 320.30,441.00" fill="#151515"/>
<polygon points="325.50,405.80 330.20,414.26 320.80,414.26" fill="#2a2a2a"/>
<rect x="352.90" y="420.70" width="8.60" height="8.60" fill="#151515"/>
<polygon points="357.20,440.30 362.40,445.50 357.20,450.70 352.00,445.50" fill="#151515"/>
<polygon points="357.20,390.80 361.90,399.26 352.50,399.26" fill="#2a2a2a"/>
<rect x="383.20" y="413.70" width="8.60" height="8.60" fill="#151515"/>
<polygon points="387.50,433.55 392.70,438.75 387.50,443.95 382.30,438.75" fill="#151515"/>
<polygon points="387.50,390.30 392.20,398.76 382.80,398.76" fill="#2a2a2a"/>
<rect x="414.20" y="414.45" width="8.60" height="8.60" fill="#151515"/>
<polygon points="418.50,437.30 423.70,442.50 418.50,447.70 413.30,442.50" fill="#151515"/>
<polygon points="418.50,379.05 423.20,387.51 413.80,387.51" fill="#2a2a2a"/>
<rect x="443.95" y="410.70" width="8.60" height="8.60" fill="#151515"/>
<polygon points="448.25,439.80 453.45,445.00 448.25,450.20 443.05,445.00" fill="#151515"/>
<polygon points="448.25,375.30 452.95,383.76 443.55,383.76" fill="#2a2a2a"/>
<rect x="474.45" y="411.95" width="8.60" height="8.60" fill="#151515"/>
<polygon points="478.75,434.80 483.95,440.00 478.75,445.20 473.55,440.00" fill="#151515"/>
<polygon points="478.75,384.80 483.45,393.26 474.05,393.26" fill="#2a2a2a"/>
<rect x="505.20" y="417.70" width="8.60" height="8.60" fill="#151515"/>
<polygon points="509.50,434.05 514.70,439.25 509.50,444.45 504.30,439.25" fill="#151515"/>
<polygon points="509.50,378.30 514.20,386.76 504.80,386.76" fill="#2a2a2a"/>
<g transform="rotate(-0.1 99.6 779.2)">
<line x1="99.60" y1="542.40" x2="99.60" y2="786.00" stroke="#151515" stroke-width="2.4"/>
<line x1="92.50" y1="779.20" x2="512.70" y2="779.20" stroke="#151515" stroke-width="2.4"/>
<line x1="92.50" y1="779.20" x2="99.60" y2="779.20" stroke="#151515" stroke-width="2.1"/>
<line x1="92.50" y1="739.87" x2="99.60" y2="739.87" stroke="#151515" stroke-width="2.1"/>
<line x1="92.50" y1="700.54" x2="99.60" y2="700.54" stroke="#151515" stroke-width="2.1"/>
<line x1="92.50" y1="661.21" x2="99.60" y2="661.21" stroke="#151515" stroke-width="2.1"/>
<line x1="92.50" y1="621.88" x2="99.60" y2="621.88" stroke="#151515" stroke-width="2.1"/>
<line x1="92.50" y1="582.55" x2="99.60" y2="582.55" stroke="#151515" stroke-width="2.1"/>
<line x1="92.50" y1="543.22" x2="99.60" y2="543.22" stroke="#151515" stroke-width="2.1"/>
<line x1="114.12" y1="779.20" x2="114.12" y2="786.00" stroke="#151515" stroke-width="2.1"/>
<line x1="128.64" y1="779.20" x2="128.64" y2="786.00" stroke="#151515" stroke-width="2.1"/>
<line x1="143.16" y1="779.20" x2="143.16" y2="786.00" stroke="#151515" stroke-width="2.1"/>
<line x1="157.68" y1="779.20" x2="157.68" y2="786.00" stroke="#151515" stroke-width="2.1"/>
<line x1="172.20" y1="779.20" x2="172.20" y2="786.00" stroke="#151515" stroke-width="2.1"/>
<line x1="186.72" y1="779.20" x2="186.72" y2="786.00" stroke="#151515" stroke-width="2.1"/>
<line x1="201.24" y1="779.20" x2="201.24" y2="786.00" stroke="#151515" stroke-width="2.1"/>
<line x1="215.76" y1="779.20" x2="215.76" y2="786.00" stroke="#151515" stroke-width="2.1"/>
<line x1="230.28" y1="779.20" x2="230.28" y2="786.00" stroke="#151515" stroke-width="2.1"/>
<line x1="244.80" y1="779.20" x2="244.80" y2="786.00" stroke="#151515" stroke-width="2.1"/>
<line x1="259.32" y1="779.20" x2="259.32" y2="786.00" stroke="#151515" stroke-width="2.1"/>
<line x1="273.84" y1="779.20" x2="273.84" y2="786.00" stroke="#151515" stroke-width="2.1"/>
<line x1="288.36" y1="779.20" x2="288.36" y2="786.00" stroke="#151515" stroke-width="2.1"/>
<line x1="302.88" y1="779.20" x2="302.88" y2="786.00" stroke="#151515" stroke-width="2.1"/>
<line x1="317.40" y1="779.20" x2="317.40" y2="786.00" stroke="#151515" stroke-width="2.1"/>
<line x1="331.92" y1="779.20" x2="331.92" y2="786.00" stroke="#151515" stroke-width="2.1"/>
<line x1="346.44" y1="779.20" x2="346.44" y2="786.00" stroke="#151515" stroke-width="2.1"/>
<line x1="360.96" y1="779.20" x2="360.96" y2="786.00" stroke="#151515" stroke-width="2.1"/>
<line x1="375.48" y1="779.20" x2="375.48" y2="786.00" stroke="#151515" stroke-width="2.1"/>
<line x1="390.00" y1="779.20" x2="390.00" y2="786.00" stroke="#151515" stroke-width="2.1"/>
<line x1="404.52" y1="779.20" x2="404.52" y2="786.00" stroke="#151515" stroke-width="2.1"/>
<line x1="419.04" y1="779.20" x2="419.04" y2="786.00" stroke="#151515" stroke-width="2.1"/>
<line x1="433.56" y1="779.20" x2="433.56" y2="786.00" stroke="#151515" stroke-width="2.1"/>
<line x1="448.08" y1="779.20" x2="448.08" y2="786.00" stroke="#151515" stroke-width="2.1"/>
<line x1="462.60" y1="779.20" x2="462.60" y2="786.00" stroke="#151515" stroke-width="2.1"/>
<line x1="477.12" y1="779.20" x2="477.12" y2="786.00" stroke="#151515" stroke-width="2.1"/>
<line x1="491.64" y1="779.20" x2="491.64" y2="786.00" stroke="#151515" stroke-width="2.1"/>
<line x1="506.16" y1="779.20" x2="506.16" y2="786.00" stroke="#151515" stroke-width="2.1"/>
</g>
<text x="82.8" y="785.2" font-size="19.8" font-weight="normal" text-anchor="end" textLength="10.4" lengthAdjust="spacingAndGlyphs" class="r2">0</text>
<text x="82.8" y="745.87" font-size="19.8" font-weight="normal" text-anchor="end" textLength="20.2" lengthAdjust="spacingAndGlyphs" class="r2">10</text>
<text x="82.8" y="706.5400000000001" font-size="19.8" font-weight="normal" text-anchor="end" textLength="20.2" lengthAdjust="spacingAndGlyphs" class="r2">20</text>
<text x="82.8" y="667.21" font-size="19.8" font-weight="normal" text-anchor="end" textLength="20.2" lengthAdjust="spacingAndGlyphs" class="r2">30</text>
<text x="82.8" y="627.8800000000001" font-size="19.8" font-weight="normal" text-anchor="end" textLength="20.2" lengthAdjust="spacingAndGlyphs" class="r2">40</text>
<text x="82.8" y="588.5500000000001" font-size="19.8" font-weight="normal" text-anchor="end" textLength="20.2" lengthAdjust="spacingAndGlyphs" class="r2">50</text>
<text x="82.8" y="549.22" font-size="19.8" font-weight="normal" text-anchor="end" textLength="20.2" lengthAdjust="spacingAndGlyphs" class="r2">60</text>
<text x="108.6" y="807.5" font-size="19.8" font-weight="normal" text-anchor="middle" textLength="29" lengthAdjust="spacingAndGlyphs" transform="rotate(-90 108.6 807.5)" class="r2">160</text>
<text x="137.6" y="807.5" font-size="19.8" font-weight="normal" text-anchor="middle" textLength="29" lengthAdjust="spacingAndGlyphs" transform="rotate(-90 137.6 807.5)" class="r2">170</text>
<text x="166.6" y="807.5" font-size="19.8" font-weight="normal" text-anchor="middle" textLength="29" lengthAdjust="spacingAndGlyphs" transform="rotate(-90 166.6 807.5)" class="r2">180</text>
<text x="195.6" y="807.5" font-size="19.8" font-weight="normal" text-anchor="middle" textLength="29" lengthAdjust="spacingAndGlyphs" transform="rotate(-90 195.6 807.5)" class="r2">190</text>
<text x="224.6" y="807.5" font-size="19.8" font-weight="normal" text-anchor="middle" textLength="29" lengthAdjust="spacingAndGlyphs" transform="rotate(-90 224.6 807.5)" class="r2">200</text>
<text x="253.6" y="807.5" font-size="19.8" font-weight="normal" text-anchor="middle" textLength="29" lengthAdjust="spacingAndGlyphs" transform="rotate(-90 253.6 807.5)" class="r2">210</text>
<text x="282.6" y="807.5" font-size="19.8" font-weight="normal" text-anchor="middle" textLength="29" lengthAdjust="spacingAndGlyphs" transform="rotate(-90 282.6 807.5)" class="r2">220</text>
<text x="311.6" y="807.5" font-size="19.8" font-weight="normal" text-anchor="middle" textLength="29" lengthAdjust="spacingAndGlyphs" transform="rotate(-90 311.6 807.5)" class="r2">230</text>
<text x="340.6" y="807.5" font-size="19.8" font-weight="normal" text-anchor="middle" textLength="29" lengthAdjust="spacingAndGlyphs" transform="rotate(-90 340.6 807.5)" class="r2">240</text>
<text x="369.6" y="807.5" font-size="19.8" font-weight="normal" text-anchor="middle" textLength="29" lengthAdjust="spacingAndGlyphs" transform="rotate(-90 369.6 807.5)" class="r2">250</text>
<text x="398.6" y="807.5" font-size="19.8" font-weight="normal" text-anchor="middle" textLength="29" lengthAdjust="spacingAndGlyphs" transform="rotate(-90 398.6 807.5)" class="r2">260</text>
<text x="427.6" y="807.5" font-size="19.8" font-weight="normal" text-anchor="middle" textLength="29" lengthAdjust="spacingAndGlyphs" transform="rotate(-90 427.6 807.5)" class="r2">270</text>
<text x="456.6" y="807.5" font-size="19.8" font-weight="normal" text-anchor="middle" textLength="29" lengthAdjust="spacingAndGlyphs" transform="rotate(-90 456.6 807.5)" class="r2">280</text>
<text x="485.6" y="807.5" font-size="19.8" font-weight="normal" text-anchor="middle" textLength="29" lengthAdjust="spacingAndGlyphs" transform="rotate(-90 485.6 807.5)" class="r2">290</text>
<text x="514.6" y="807.5" font-size="19.8" font-weight="normal" text-anchor="middle" textLength="29" lengthAdjust="spacingAndGlyphs" transform="rotate(-90 514.6 807.5)" class="r2">300</text>
<text x="22.8" y="658.5" font-size="19" font-weight="bold" text-anchor="middle" textLength="205" lengthAdjust="spacingAndGlyphs" transform="rotate(-90 22.8 658.5)">Glucose Infusion Rate</text>
<text x="44.3" y="658.7" font-size="19" font-weight="bold" text-anchor="middle" textLength="130" lengthAdjust="spacingAndGlyphs" transform="rotate(-90 44.3 658.7)">(<tspan font-style="italic">μ</tspan>mol/Kg/min)</text>
<text x="291.8" y="850.5" font-size="19" font-weight="bold" text-anchor="middle" textLength="96" lengthAdjust="spacingAndGlyphs">Time (min)</text>
<polyline points="161.60,767.00 191.50,751.00 220.00,623.40 278.25,582.50 335.00,630.00 393.90,655.30 451.80,604.20 509.00,582.30" fill="none" stroke="#7e7e7e" stroke-width="2.1" stroke-linejoin="round"/>
<polyline points="161.60,762.00 191.50,752.00 220.00,654.00 278.25,620.00 335.00,681.25 393.90,728.00 451.80,723.00 509.00,713.00" fill="none" stroke="#151515" stroke-width="2.1" stroke-linejoin="round"/>
<polyline points="161.60,772.60 191.50,753.00 220.00,654.50 278.25,643.75 335.00,712.50 393.90,737.00 451.80,723.50 509.00,739.00" fill="none" stroke="#151515" stroke-width="2.1" stroke-linejoin="round"/>
<line x1="161.60" y1="762.00" x2="161.60" y2="754.70" stroke="#151515" stroke-width="2.0"/>
<line x1="156.40" y1="754.70" x2="166.80" y2="754.70" stroke="#151515" stroke-width="2.0"/>
<line x1="161.60" y1="772.60" x2="161.60" y2="776.00" stroke="#151515" stroke-width="2.0"/>
<line x1="156.40" y1="776.00" x2="166.80" y2="776.00" stroke="#151515" stroke-width="2.0"/>
<line x1="191.50" y1="751.00" x2="191.50" y2="735.00" stroke="#151515" stroke-width="2.0"/>
<line x1="186.30" y1="735.00" x2="196.70" y2="735.00" stroke="#151515" stroke-width="2.0"/>
<line x1="191.50" y1="753.00" x2="191.50" y2="760.60" stroke="#151515" stroke-width="2.0"/>
<line x1="186.30" y1="760.60" x2="196.70" y2="760.60" stroke="#151515" stroke-width="2.0"/>
<line x1="220.00" y1="623.40" x2="220.00" y2="586.70" stroke="#151515" stroke-width="2.0"/>
<line x1="214.80" y1="586.70" x2="225.20" y2="586.70" stroke="#151515" stroke-width="2.0"/>
<line x1="220.00" y1="654.00" x2="220.00" y2="643.00" stroke="#151515" stroke-width="2.0"/>
<line x1="214.80" y1="643.00" x2="225.20" y2="643.00" stroke="#151515" stroke-width="2.0"/>
<line x1="220.00" y1="654.50" x2="220.00" y2="667.00" stroke="#151515" stroke-width="2.0"/>
<line x1="214.80" y1="667.00" x2="225.20" y2="667.00" stroke="#151515" stroke-width="2.0"/>
<line x1="278.25" y1="582.50" x2="278.25" y2="561.25" stroke="#151515" stroke-width="2.0"/>
<line x1="273.05" y1="561.25" x2="283.45" y2="561.25" stroke="#151515" stroke-width="2.0"/>
<line x1="278.25" y1="620.00" x2="278.25" y2="608.75" stroke="#151515" stroke-width="2.0"/>
<line x1="273.05" y1="608.75" x2="283.45" y2="608.75" stroke="#151515" stroke-width="2.0"/>
<line x1="278.25" y1="643.75" x2="278.25" y2="658.75" stroke="#151515" stroke-width="2.0"/>
<line x1="273.05" y1="658.75" x2="283.45" y2="658.75" stroke="#151515" stroke-width="2.0"/>
<line x1="335.00" y1="630.00" x2="335.00" y2="604.50" stroke="#151515" stroke-width="2.0"/>
<line x1="329.80" y1="604.50" x2="340.20" y2="604.50" stroke="#151515" stroke-width="2.0"/>
<line x1="335.00" y1="681.25" x2="335.00" y2="671.25" stroke="#151515" stroke-width="2.0"/>
<line x1="329.80" y1="671.25" x2="340.20" y2="671.25" stroke="#151515" stroke-width="2.0"/>
<line x1="335.00" y1="712.50" x2="335.00" y2="724.25" stroke="#151515" stroke-width="2.0"/>
<line x1="329.80" y1="724.25" x2="340.20" y2="724.25" stroke="#151515" stroke-width="2.0"/>
<line x1="393.90" y1="655.30" x2="393.90" y2="635.00" stroke="#151515" stroke-width="2.0"/>
<line x1="388.70" y1="635.00" x2="399.10" y2="635.00" stroke="#151515" stroke-width="2.0"/>
<line x1="393.90" y1="728.00" x2="393.90" y2="715.80" stroke="#151515" stroke-width="2.0"/>
<line x1="388.70" y1="715.80" x2="399.10" y2="715.80" stroke="#151515" stroke-width="2.0"/>
<line x1="393.90" y1="737.00" x2="393.90" y2="748.40" stroke="#151515" stroke-width="2.0"/>
<line x1="388.70" y1="748.40" x2="399.10" y2="748.40" stroke="#151515" stroke-width="2.0"/>
<line x1="451.80" y1="604.20" x2="451.80" y2="578.30" stroke="#151515" stroke-width="2.0"/>
<line x1="446.60" y1="578.30" x2="457.00" y2="578.30" stroke="#151515" stroke-width="2.0"/>
<line x1="451.80" y1="723.00" x2="451.80" y2="714.40" stroke="#151515" stroke-width="2.0"/>
<line x1="446.60" y1="714.40" x2="457.00" y2="714.40" stroke="#151515" stroke-width="2.0"/>
<line x1="451.80" y1="723.50" x2="451.80" y2="734.60" stroke="#151515" stroke-width="2.0"/>
<line x1="446.60" y1="734.60" x2="457.00" y2="734.60" stroke="#151515" stroke-width="2.0"/>
<line x1="509.00" y1="582.30" x2="509.00" y2="552.90" stroke="#151515" stroke-width="2.0"/>
<line x1="503.80" y1="552.90" x2="514.20" y2="552.90" stroke="#151515" stroke-width="2.0"/>
<line x1="509.00" y1="713.00" x2="509.00" y2="707.00" stroke="#151515" stroke-width="2.0"/>
<line x1="503.80" y1="707.00" x2="514.20" y2="707.00" stroke="#151515" stroke-width="2.0"/>
<line x1="509.00" y1="739.00" x2="509.00" y2="746.00" stroke="#151515" stroke-width="2.0"/>
<line x1="503.80" y1="746.00" x2="514.20" y2="746.00" stroke="#151515" stroke-width="2.0"/>
<polygon points="161.60,762.00 166.60,771.00 156.60,771.00" fill="#2a2a2a"/>
<rect x="156.90" y="757.30" width="9.40" height="9.40" fill="#151515"/>
<polygon points="161.60,767.00 167.20,772.60 161.60,778.20 156.00,772.60" fill="#151515"/>
<polygon points="191.50,747.90 194.60,753.48 188.40,753.48" fill="#2a2a2a"/>
<rect x="188.59" y="749.09" width="5.83" height="5.83" fill="#151515"/>
<polygon points="191.50,749.53 194.97,753.00 191.50,756.47 188.03,753.00" fill="#151515"/>
<polygon points="220.00,618.40 225.00,627.40 215.00,627.40" fill="#2a2a2a"/>
<rect x="215.30" y="649.30" width="9.40" height="9.40" fill="#151515"/>
<polygon points="220.00,648.90 225.60,654.50 220.00,660.10 214.40,654.50" fill="#151515"/>
<polygon points="278.25,577.50 283.25,586.50 273.25,586.50" fill="#2a2a2a"/>
<rect x="273.55" y="615.30" width="9.40" height="9.40" fill="#151515"/>
<polygon points="278.25,638.15 283.85,643.75 278.25,649.35 272.65,643.75" fill="#151515"/>
<polygon points="335.00,625.00 340.00,634.00 330.00,634.00" fill="#2a2a2a"/>
<rect x="330.30" y="676.55" width="9.40" height="9.40" fill="#151515"/>
<polygon points="335.00,706.90 340.60,712.50 335.00,718.10 329.40,712.50" fill="#151515"/>
<polygon points="393.90,650.30 398.90,659.30 388.90,659.30" fill="#2a2a2a"/>
<rect x="389.20" y="723.30" width="9.40" height="9.40" fill="#151515"/>
<polygon points="393.90,731.40 399.50,737.00 393.90,742.60 388.30,737.00" fill="#151515"/>
<polygon points="451.80,599.20 456.80,608.20 446.80,608.20" fill="#2a2a2a"/>
<rect x="447.10" y="718.30" width="9.40" height="9.40" fill="#151515"/>
<polygon points="451.80,717.90 457.40,723.50 451.80,729.10 446.20,723.50" fill="#151515"/>
<polygon points="509.00,577.30 514.00,586.30 504.00,586.30" fill="#2a2a2a"/>
<rect x="504.30" y="708.30" width="9.40" height="9.40" fill="#151515"/>
<polygon points="509.00,733.40 514.60,739.00 509.00,744.60 503.40,739.00" fill="#151515"/>
</g>
</svg>
</body></html>
